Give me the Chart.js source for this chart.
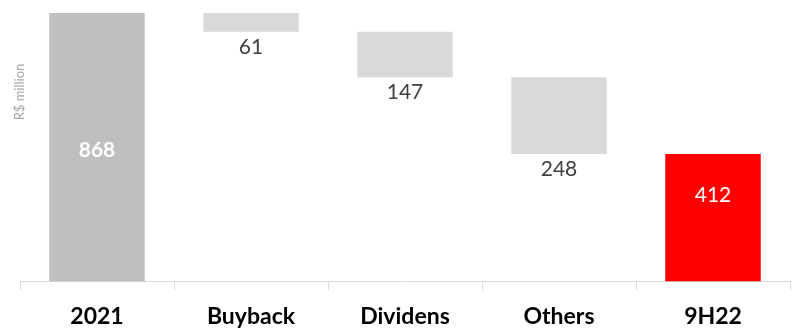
<!DOCTYPE html>
<html>
<head>
<meta charset="utf-8">
<script src="https://cdn.jsdelivr.net/npm/chart.js@4"></script>
<style>
  html, body { margin: 0; padding: 0; background: #fff; }
  #outer { width: 792px; height: 329px; overflow: hidden; }
  #wrap { width: 792px; height: 342px; }
</style>
</head>
<body>
<div id="outer"><div id="wrap"><canvas id="waterfall"></canvas></div></div>
<script>
const categories = ['2021', 'Buyback', 'Dividens', 'Others', '9H22'];
// signed steps: totals are positive, reductions negative
const steps = [868, -61, -147, -248, 412];
const isTotal = [true, false, false, false, true];
const barColors = ['#bfbfbf', '#d9d9d9', '#d9d9d9', '#d9d9d9', '#ff0000'];
const yTitle = 'R$ million';

// floating ranges for the waterfall
let running = 0;
const ranges = steps.map((v, i) => {
    if (isTotal[i]) {
        running = v;
        return [0, v];
    }
    const start = running;
    running = running + v;
    return [running, start];
});

const labelFont = '"Lato", "Open Sans", sans-serif';

const valueLabels = {
    id: 'valueLabels',
    afterDatasetsDraw(chart) {
        const ctx = chart.ctx;
        const meta = chart.getDatasetMeta(0);
        ctx.save();
        ctx.textAlign = 'center';
        ctx.textBaseline = 'middle';
        meta.data.forEach((bar, i) => {
            const txt = String(Math.abs(steps[i]));
            const top = Math.min(bar.y, bar.base);
            const bottom = Math.max(bar.y, bar.base);
            if (i === 0) {
                ctx.fillStyle = '#ffffff';
                ctx.font = 'bold 21px ' + labelFont;
                ctx.fillText(txt, bar.x, top + (bottom - top) * 0.51);
            } else if (isTotal[i]) {
                ctx.fillStyle = '#ffffff';
                ctx.font = '21px ' + labelFont;
                ctx.fillText(txt, bar.x, top + 41);
            } else {
                ctx.fillStyle = '#404040';
                ctx.font = '21px ' + labelFont;
                ctx.fillText(txt, bar.x, bottom + 15);
            }
        });
        // axis title
        ctx.translate(20, 92);
        ctx.rotate(-Math.PI / 2);
        ctx.fillStyle = '#a6a6a6';
        ctx.font = '13px ' + labelFont;
        ctx.fillText(yTitle, 0, 0);
        ctx.restore();
    }
};

new Chart(document.getElementById('waterfall'), {
    type: 'bar',
    data: {
        labels: categories,
        datasets: [{
            data: ranges,
            backgroundColor: barColors,
            borderWidth: 0,
            barPercentage: 0.62,
            categoryPercentage: 1,
        }],
    },
    options: {
        responsive: true,
        maintainAspectRatio: false,
        animation: false,
        layout: { padding: { top: 13, left: 20, right: 2, bottom: 0 } },
        plugins: {
            legend: { display: false },
            tooltip: { enabled: false },
        },
        scales: {
            x: {
                grid: {
                    offset: true,
                    drawOnChartArea: false,
                    drawTicks: true,
                    tickLength: 9,
                    color: '#d9d9d9',
                },
                border: { color: '#d9d9d9' },
                ticks: {
                    color: '#000000',
                    padding: 12,
                    font: { family: labelFont, size: 23, weight: 'bold' },
                },
            },
            y: {
                display: false,
                min: 0,
                max: 868,
            },
        },
    },
    plugins: [valueLabels],
});
</script>
</body>
</html>
